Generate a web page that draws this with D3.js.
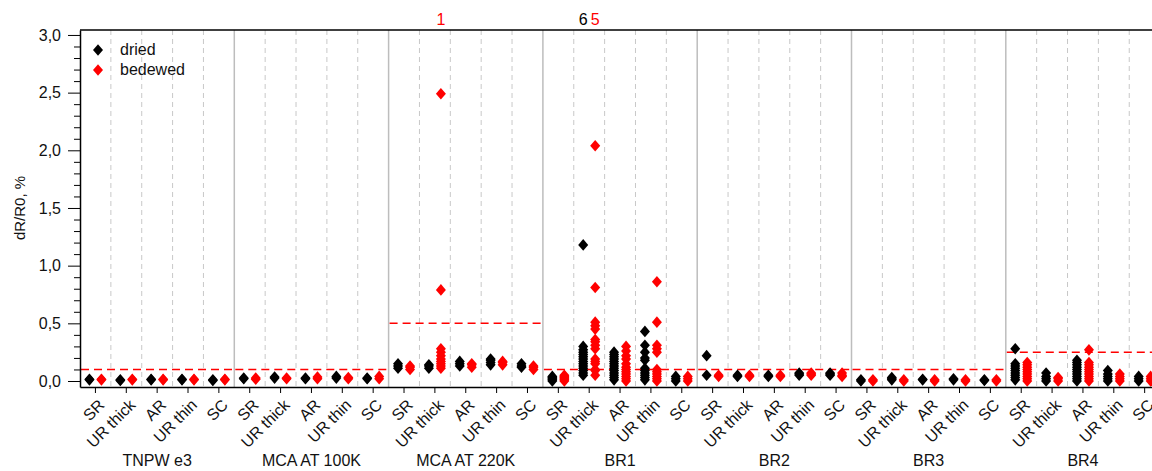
<!DOCTYPE html>
<html>
<head>
<meta charset="utf-8">
<script src="https://cdn.jsdelivr.net/npm/d3@7"></script>
<style>
  body { margin: 0; background: #fff; }
  svg { font-family: Arial, "Liberation Sans", sans-serif; }
</style>
</head>
<body>
<svg width="1152" height="471"></svg>
<script>
// groups and categories
var groups = ["TNPW e3", "MCA AT 100K", "MCA AT 220K", "BR1", "BR2", "BR3", "BR4"];
var cats = ["SR", "UR thick", "AR", "UR thin", "SC"];

// red dashed limit per group
var limits = [0.1, 0.1, 0.5, 0.1, 0.1, 0.1, 0.25];

// dried values, one list per group/category
var dried = [
  [[0.01, 0.015], [0.005, 0.01], [0.01, 0.015], [0.01, 0.015], [0.005, 0.01]],
  [[0.02, 0.025], [0.025, 0.035], [0.02, 0.025], [0.025, 0.04], [0.02, 0.025]],
  [[0.11, 0.13, 0.15], [0.11, 0.13, 0.14], [0.13, 0.15, 0.17], [0.14, 0.16, 0.18, 0.19], [0.12, 0.13, 0.15]],
  [[0, 0.01, 0.02, 0.03, 0.04],
   [0.05, 0.07, 0.09, 0.11, 0.13, 0.15, 0.17, 0.19, 0.21, 0.23, 0.25, 0.27, 0.30, 1.18],
   [0.01, 0.03, 0.05, 0.07, 0.09, 0.11, 0.13, 0.15, 0.17, 0.19, 0.21, 0.23, 0.25],
   [0.01, 0.03, 0.05, 0.07, 0.09, 0.11, 0.18, 0.20, 0.25, 0.31, 0.43],
   [0, 0.02, 0.04]],
  [[0.05, 0.22], [0.04, 0.05], [0.04, 0.05], [0.05, 0.06, 0.07], [0.05, 0.06, 0.07]],
  [[0, 0.01], [0.01, 0.02, 0.03], [0.01, 0.015], [0.01, 0.02], [0.005, 0.01]],
  [[0.01, 0.03, 0.05, 0.07, 0.09, 0.11, 0.13, 0.15, 0.28],
   [0, 0.02, 0.04, 0.07],
   [0, 0.02, 0.04, 0.06, 0.08, 0.10, 0.12, 0.14, 0.16, 0.18],
   [0, 0.02, 0.04, 0.06, 0.09],
   [0, 0.02, 0.04]]
];

// bedewed values
var bedewed = [
  [[0.01, 0.015], [0.01, 0.015], [0.01, 0.015], [0.01, 0.015], [0.01, 0.015]],
  [[0.015, 0.025], [0.02, 0.025], [0.02, 0.035], [0.02, 0.03], [0.02, 0.04]],
  [[0.10, 0.12, 0.13], [0.11, 0.13, 0.15, 0.17, 0.19, 0.22, 0.25, 0.28, 0.79, 2.49], [0.12, 0.14, 0.15], [0.14, 0.16, 0.17], [0.10, 0.12, 0.13]],
  [[0, 0.01, 0.02, 0.03, 0.04, 0.05],
   [0.05, 0.09, 0.10, 0.15, 0.17, 0.19, 0.28, 0.31, 0.34, 0.36, 0.45, 0.48, 0.51, 0.81, 2.04],
   [0, 0.02, 0.04, 0.06, 0.08, 0.10, 0.12, 0.15, 0.19, 0.22, 0.26, 0.30],
   [0, 0.02, 0.04, 0.06, 0.08, 0.10, 0.25, 0.28, 0.31, 0.51, 0.86],
   [0, 0.02, 0.04]],
  [[0.04, 0.05], [0.04, 0.05], [0.04, 0.05], [0.05, 0.06, 0.07], [0.04, 0.05, 0.07]],
  [[0, 0.01], [0, 0.01], [0, 0.01], [0, 0.01], [0, 0.01]],
  [[0, 0.02, 0.04, 0.06, 0.08, 0.10, 0.12, 0.14, 0.16],
   [0, 0.02, 0.03],
   [0, 0.02, 0.04, 0.06, 0.08, 0.10, 0.12, 0.14, 0.16, 0.27],
   [0, 0.02, 0.04, 0.06],
   [0, 0.02, 0.04]]
];

// points above the axis range, written as counts on top
var overflow = [
  { group: 2, cat: 1, series: "bedewed", count: 1 },
  { group: 3, cat: 1, series: "dried", count: 6 },
  { group: 3, cat: 1, series: "bedewed", count: 5 }
];

var yMajor = [0, 0.5, 1, 1.5, 2, 2.5, 3];
var yMinor = [0.1, 0.2, 0.3, 0.4, 0.6, 0.7, 0.8, 0.9, 1.1, 1.2, 1.3, 1.4, 1.6, 1.7, 1.8, 1.9,
              2.1, 2.2, 2.3, 2.4, 2.6, 2.7, 2.8, 2.9];

var colors = { dried: "#000000", bedewed: "#ff0000" };
var offset = { dried: -6, bedewed: 6 };

var margin = { top: 30, left: 80, bottom: 84 };
var catW = 30.86;
var width = groups.length * cats.length * catW,
    height = 471 - margin.top - margin.bottom;

var svg = d3.select("svg");
var g = svg.append("g")
    .attr("transform", "translate(" + margin.left + "," + margin.top + ")");

var keys = [];
groups.forEach(function(gr, gi) {
  cats.forEach(function(c, ci) { keys.push(gi + "|" + ci); });
});

var x = d3.scaleBand().domain(keys).range([0, width]).padding(0);
var y = d3.scaleLinear().domain([-0.052, 3.043]).range([height, 0]);
var groupW = x.bandwidth() * cats.length;

// dashed grid between categories
keys.forEach(function(k, i) {
  if (i % cats.length == 0) return;
  g.append("line")
    .attr("x1", x(k)).attr("x2", x(k))
    .attr("y1", 0).attr("y2", height)
    .attr("stroke", "#c8c8c8")
    .attr("stroke-dasharray", "5,4");
});

// group separators
groups.forEach(function(gr, gi) {
  if (gi == 0) return;
  var gx = x(gi + "|0");
  g.append("line")
    .attr("x1", gx).attr("x2", gx)
    .attr("y1", 0).attr("y2", height)
    .attr("stroke", "#bdbdbd")
    .attr("stroke-width", 1.5);
});

// limit lines
limits.forEach(function(l, gi) {
  var gx = x(gi + "|0");
  g.append("line")
    .attr("x1", gx + 1).attr("x2", gx + groupW - 1)
    .attr("y1", y(l)).attr("y2", y(l))
    .attr("stroke", "#ff0000")
    .attr("stroke-width", 1.5)
    .attr("stroke-dasharray", "8,5");
});

// flatten points
var pts = [];
[["dried", dried], ["bedewed", bedewed]].forEach(function(s) {
  s[1].forEach(function(row, gi) {
    row.forEach(function(vals, ci) {
      vals.forEach(function(v) {
        pts.push({ series: s[0], key: gi + "|" + ci, v: v });
      });
    });
  });
});

var diamond = "M0,-5.8L5,0L0,5.8L-5,0Z";

g.selectAll(".pt")
  .data(pts)
  .enter().append("path")
    .attr("class", "pt")
    .attr("d", diamond)
    .attr("transform", function(d) {
      return "translate(" + (x(d.key) + x.bandwidth() / 2 + offset[d.series]) + "," + y(d.v) + ")";
    })
    .attr("fill", function(d) { return colors[d.series]; });

// y axis
var yAxis = g.append("g")
  .call(d3.axisLeft(y).tickValues(yMajor).tickSize(12).tickSizeOuter(0).tickPadding(7)
    .tickFormat(function(d) { return d3.format(".1f")(d).replace(".", ","); }));
yAxis.selectAll("text").attr("font-size", 16).attr("fill", "#111");
yAxis.select(".domain").attr("stroke-width", 1.5);

var yMin = g.append("g")
  .call(d3.axisLeft(y).tickValues(yMinor).tickSize(6).tickFormat(""));
yMin.select(".domain").remove();

// top border
g.append("line")
  .attr("x1", 0).attr("x2", width)
  .attr("y1", 0).attr("y2", 0)
  .attr("stroke", "#000").attr("stroke-width", 1.5);

// x axis
var xAxis = g.append("g")
  .attr("transform", "translate(0," + height + ")")
  .call(d3.axisBottom(x).tickSize(6).tickSizeOuter(0).tickFormat(""));
xAxis.select(".domain").attr("stroke-width", 1.5);

g.selectAll(".catlabel")
  .data(keys)
  .enter().append("text")
    .attr("class", "catlabel")
    .attr("transform", function(k) {
      return "translate(" + (x(k) + x.bandwidth() / 2 + 10) + "," + (height + 19) + ") rotate(-45)";
    })
    .attr("text-anchor", "end")
    .attr("font-size", 16)
    .attr("fill", "#111")
    .text(function(k) { return cats[+k.split("|")[1]]; });

g.selectAll(".grplabel")
  .data(groups)
  .enter().append("text")
    .attr("class", "grplabel")
    .attr("x", function(d, gi) { return x(gi + "|0") + groupW / 2; })
    .attr("y", height + 79)
    .attr("text-anchor", "middle")
    .attr("font-size", 16)
    .attr("fill", "#111")
    .text(function(d) { return d; });

// counts above range
g.selectAll(".over")
  .data(overflow)
  .enter().append("text")
    .attr("class", "over")
    .attr("x", function(d) { return x(d.group + "|" + d.cat) + x.bandwidth() / 2 + offset[d.series]; })
    .attr("y", -5)
    .attr("text-anchor", "middle")
    .attr("font-size", 16)
    .attr("fill", function(d) { return colors[d.series]; })
    .text(function(d) { return d.count; });

// y label
svg.append("text")
  .attr("transform", "translate(25," + (margin.top + y(1.5)) + ") rotate(-90)")
  .attr("text-anchor", "middle")
  .attr("font-size", 15)
  .attr("fill", "#111")
  .text("dR/R0, %");

// legend
var legend = g.append("g").attr("transform", "translate(18,20)");
["dried", "bedewed"].forEach(function(s, i) {
  legend.append("path")
    .attr("d", diamond)
    .attr("transform", "translate(0," + i * 20 + ")")
    .attr("fill", colors[s]);
  legend.append("text")
    .attr("x", 22).attr("y", i * 20 + 5)
    .attr("font-size", 16)
    .attr("fill", "#111")
    .text(s);
});
</script>
</body>
</html>
